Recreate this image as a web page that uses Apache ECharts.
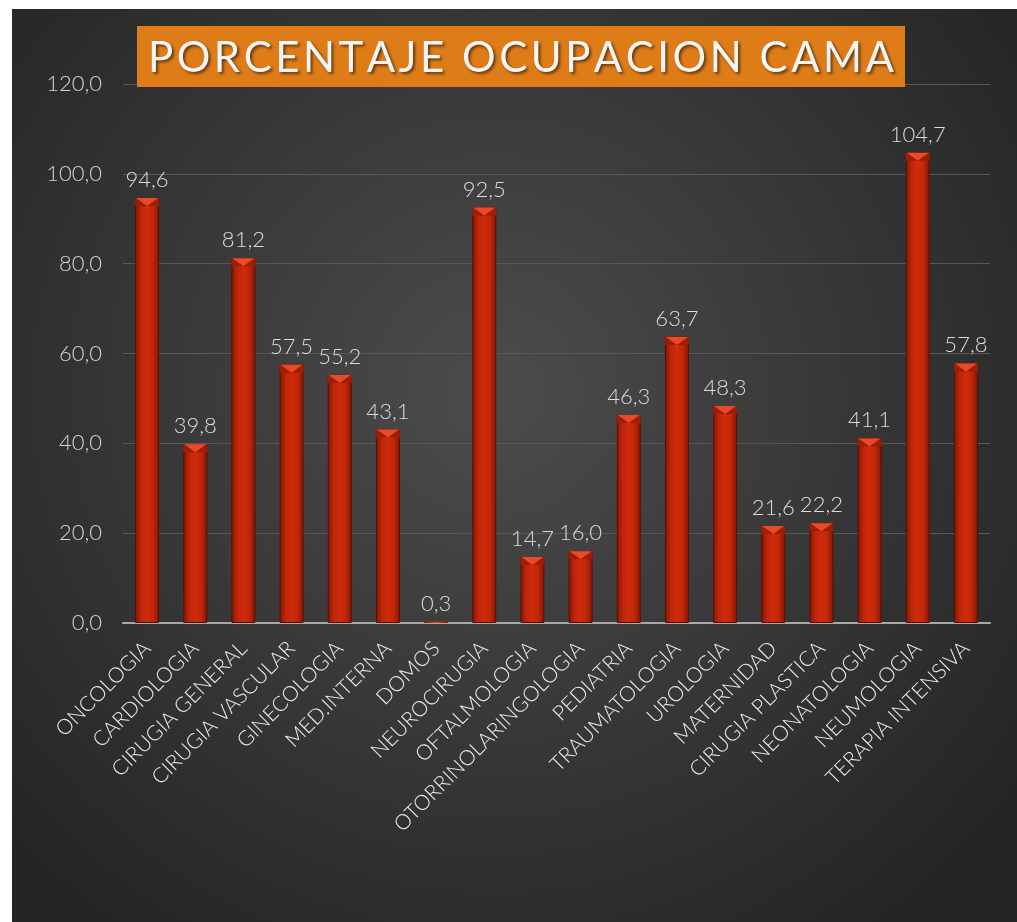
<!DOCTYPE html>
<html>
<head>
<meta charset="utf-8">
<script src="https://cdn.jsdelivr.net/npm/echarts@6/dist/echarts.min.js"></script>
<style>
  html, body { margin: 0; padding: 0; background: #fff; }
  #chart-container { width: 1017px; height: 922px; }
</style>
</head>
<body>
<div id="chart-container"></div>
<script>
var servicios = [
    'ONCOLOGIA', 'CARDIOLOGIA', 'CIRUGIA GENERAL', 'CIRUGIA VASCULAR', 'GINECOLOGIA',
    'MED.INTERNA', 'DOMOS', 'NEUROCIRUGIA', 'OFTALMOLOGIA', 'OTORRINOLARINGOLOGIA',
    'PEDIATRIA', 'TRAUMATOLOGIA', 'UROLOGIA', 'MATERNIDAD', 'CIRUGIA PLASTICA',
    'NEONATOLOGIA', 'NEUMOLOGIA', 'TERAPIA INTENSIVA'
];
var ocupacion = [94.6, 39.8, 81.2, 57.5, 55.2, 43.1, 0.3, 92.5, 14.7, 16.0, 46.3, 63.7, 48.3, 21.6, 22.2, 41.1, 104.7, 57.8];
var titulo = 'PORCENTAJE OCUPACION CAMA';

var dom = document.getElementById('chart-container');
var myChart = echarts.init(dom, null, { renderer: 'canvas' });

var fmt = function (v) {
    return Number(v).toFixed(1).replace('.', ',');
};

// title with letter spacing (zrender has no letterSpacing), one text per char
var titleFont = '42px Lato';
var titleWidth = 746;
var ctx = document.createElement('canvas').getContext('2d');
ctx.font = titleFont;
var widths = titulo.split('').map(function (c) { return ctx.measureText(c).width; });
var natural = widths.reduce(function (a, b) { return a + b; }, 0);
var gap = (titleWidth - natural) / (titulo.length - 1);
var titleChars = [];
var cx = 521 - titleWidth / 2;
titulo.split('').forEach(function (c, i) {
    titleChars.push({
        type: 'text',
        z: 20,
        x: cx,
        y: 58,
        style: {
            text: c,
            fill: '#f4f4f4',
            font: titleFont,
            align: 'left',
            verticalAlign: 'middle',
            textShadowColor: 'rgba(0,0,0,0.55)',
            textShadowOffsetX: 2,
            textShadowOffsetY: 2,
            textShadowBlur: 3
        }
    });
    cx += widths[i] + gap;
});

// little bevel on top of each bar
var renderCap = function (params, api) {
    var top = api.coord([api.value(0), api.value(1)]);
    var w = 24;
    var h = Math.min(8, api.size([0, api.value(1)])[1]);
    var x0 = top[0] - w / 2;
    var y0 = top[1];
    return {
        type: 'group',
        children: [{
            type: 'polygon',
            shape: { points: [[x0, y0], [x0 + w, y0], [x0 + w, y0 + h], [top[0], y0 + h], [x0, y0 + h]] },
            style: { fill: '#9c1e08' }
        }, {
            type: 'polygon',
            shape: { points: [[x0 + 1, y0], [x0 + w - 1, y0], [top[0], y0 + h]] },
            style: { fill: '#ea4a26' }
        }]
    };
};

var option = {
    backgroundColor: '#ffffff',
    graphic: [{
        type: 'rect',
        z: -10,
        shape: { x: 12, y: 9, width: 1005, height: 913 },
        style: {
            fill: {
                type: 'radial', x: 0.48, y: 0.42, r: 0.75,
                colorStops: [
                    { offset: 0, color: '#4c4c4c' },
                    { offset: 1, color: '#232323' }
                ]
            }
        }
    }, {
        type: 'rect',
        z: 10,
        shape: { x: 137, y: 26, width: 768, height: 61 },
        style: { fill: '#de7c18' }
    }].concat(titleChars),
    grid: {
        left: 123,
        right: 27,
        top: 84,
        bottom: 299,
        containLabel: false
    },
    xAxis: {
        type: 'category',
        data: servicios,
        axisLine: { lineStyle: { color: '#a8a8a8', width: 2 } },
        axisTick: { show: false },
        axisLabel: {
            interval: 0,
            rotate: 45,
            margin: 22,
            color: '#ececec',
            fontFamily: 'Lato',
            fontWeight: 300,
            fontSize: 21
        }
    },
    yAxis: {
        type: 'value',
        min: 0,
        max: 120,
        interval: 20,
        axisLine: { show: false },
        axisTick: { show: false },
        splitLine: { lineStyle: { color: '#585858', width: 1 } },
        axisLabel: {
            color: '#d4d4d4',
            fontFamily: 'Lato',
            fontWeight: 300,
            fontSize: 22,
            margin: 21,
            formatter: fmt
        }
    },
    series: [{
        type: 'bar',
        data: ocupacion,
        barWidth: 24,
        itemStyle: {
            color: {
                type: 'linear', x: 0, y: 0, x2: 1, y2: 0,
                colorStops: [
                    { offset: 0, color: '#7e1604' },
                    { offset: 0.25, color: '#c0260a' },
                    { offset: 0.5, color: '#cf2c0c' },
                    { offset: 0.75, color: '#c0260a' },
                    { offset: 1, color: '#7e1604' }
                ]
            },
            borderColor: '#5a1004',
            borderWidth: 1
        },
        label: {
            show: true,
            position: 'top',
            distance: 7,
            color: '#dcdcdc',
            fontFamily: 'Lato',
            fontWeight: 300,
            fontSize: 22,
            formatter: function (p) { return fmt(p.value); }
        },
        z: 2
    }, {
        type: 'custom',
        renderItem: renderCap,
        data: ocupacion.map(function (v, i) { return [i, v]; }),
        z: 3,
        silent: true
    }]
};

myChart.setOption(option);
</script>
</body>
</html>
